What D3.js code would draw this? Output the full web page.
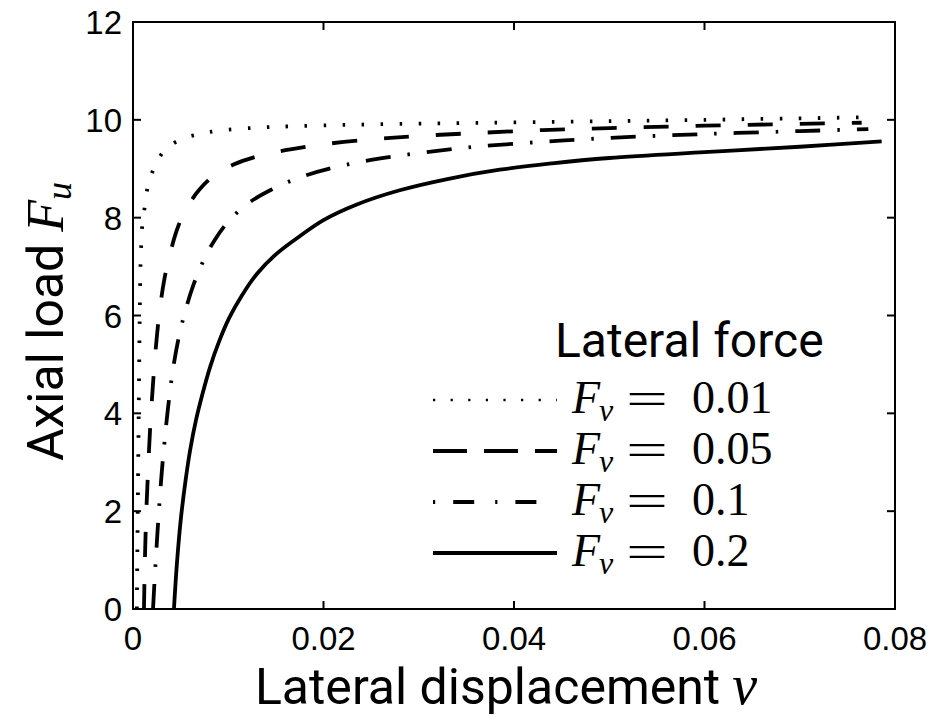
<!DOCTYPE html>
<html>
<head>
<meta charset="utf-8">
<script src="https://cdn.jsdelivr.net/npm/d3@7"></script>
<style>
  body { margin: 0; background: #fff; }
  .tick-label { font-family: "Liberation Sans", Arial, sans-serif; font-size: 33px; fill: #000; }
  .axis-title { font-family: Roboto, sans-serif; font-size: 50px; fill: #000; }
  .math { font-family: "Liberation Serif", serif; }
</style>
</head>
<body>
<div id="chart"></div>
<script>
// axis ticks
var xTicks = [0, 0.02, 0.04, 0.06, 0.08];
var yTicks = [0, 2, 4, 6, 8, 10, 12];
var xTickLabels = ["0", "0.02", "0.04", "0.06", "0.08"];

// lateral force values (legend)
var fvValues = ["0.01", "0.05", "0.1", "0.2"];

// curves: [lateral displacement v, axial load Fu]
var curveFv001 = [
  [0.0004, 0], [0.0005, 2], [0.0006, 4], [0.0007, 5.9], [0.0008, 7.1],
  [0.001, 7.9], [0.0013, 8.3], [0.0016, 8.68], [0.0023, 9.05], [0.0033, 9.37],
  [0.005, 9.6], [0.007, 9.71], [0.009, 9.78], [0.013, 9.84], [0.017, 9.87],
  [0.023, 9.9], [0.033, 9.93], [0.049, 9.97], [0.06, 10.0], [0.0762, 10.05]
];
var curveFv005 = [
  [0.00115, 0], [0.00125, 1.0], [0.0014, 2.0], [0.0016, 2.9], [0.0018, 3.7],
  [0.0021, 4.6], [0.0024, 5.35], [0.0028, 6.1], [0.0033, 6.75], [0.004, 7.35],
  [0.0048, 7.85], [0.0058, 8.25], [0.007, 8.58], [0.0085, 8.86], [0.0105, 9.08],
  [0.013, 9.25], [0.016, 9.38], [0.02, 9.5], [0.025, 9.6], [0.03, 9.67],
  [0.036, 9.73], [0.043, 9.79], [0.05, 9.83], [0.06, 9.88], [0.0765, 9.94]
];
var curveFv01 = [
  [0.0021, 0], [0.0023, 0.7], [0.0025, 1.35], [0.0027, 1.95], [0.003, 2.75],
  [0.0033, 3.4], [0.0037, 4.15], [0.0042, 4.9], [0.0048, 5.55], [0.0055, 6.1],
  [0.0063, 6.6], [0.0073, 7.08], [0.0085, 7.52], [0.01, 7.92], [0.012, 8.28],
  [0.0145, 8.57], [0.0175, 8.82], [0.021, 9.02], [0.025, 9.18], [0.03, 9.32],
  [0.036, 9.45], [0.043, 9.55], [0.05, 9.63], [0.06, 9.71], [0.07, 9.77],
  [0.0772, 9.81]
];
var curveFv02 = [
  [0.0043, 0], [0.0046, 0.9], [0.005, 1.8], [0.0055, 2.6], [0.006, 3.25],
  [0.0066, 3.85], [0.0073, 4.4], [0.0081, 4.95], [0.009, 5.45], [0.0101, 5.95],
  [0.0114, 6.4], [0.013, 6.85], [0.015, 7.25], [0.0175, 7.62], [0.02, 7.95],
  [0.0235, 8.27], [0.028, 8.56], [0.033, 8.79], [0.0385, 8.98], [0.044, 9.11],
  [0.05, 9.22], [0.06, 9.34], [0.07, 9.45], [0.0786, 9.56]
];

var svgWidth = 936;
var svgHeight = 721;
var margin = { top: 22, right: 41, bottom: 112, left: 133 };
var width = svgWidth - margin.left - margin.right;
var height = svgHeight - margin.top - margin.bottom;

var svg = d3.select("#chart")
  .append("svg")
  .attr("width", svgWidth)
  .attr("height", svgHeight);

var chartGroup = svg.append("g")
  .attr("transform", `translate(${margin.left}, ${margin.top})`);

var xScale = d3.scaleLinear().domain([0, 0.08]).range([0, width]);
var yScale = d3.scaleLinear().domain([0, 12]).range([height, 0]);

// line styles (matlab-like)
var styles = [
  { data: curveFv001, dash: "2.5,16.5", legendDash: "2.2,15.4", legendWidth: 2.5 },
  { data: curveFv005, dash: "25,27", legendDash: "34,17", legendWidth: 4 },
  { data: curveFv01, dash: "25,17,2.5,17", legendDash: "2.2,18,21,21", legendWidth: 4 },
  { data: curveFv02, dash: null, legendDash: null, legendWidth: 4 }
];

var line = d3.line()
  .x(d => xScale(d[0]))
  .y(d => yScale(d[1]))
  .curve(d3.curveCatmullRom.alpha(0.5));

styles.forEach(function(s) {
  chartGroup.append("path")
    .datum(s.data)
    .attr("d", line)
    .attr("fill", "none")
    .attr("stroke", "#000")
    .attr("stroke-width", 3.8)
    .attr("stroke-dasharray", s.dash);
});

// box with inward ticks on all sides
chartGroup.append("rect")
  .attr("x", 0).attr("y", 0)
  .attr("width", width).attr("height", height)
  .attr("fill", "none")
  .attr("stroke", "#000")
  .attr("stroke-width", 2);

var tickLen = 8;
xTicks.forEach(function(t, i) {
  var x = xScale(t);
  chartGroup.append("line").attr("x1", x).attr("x2", x)
    .attr("y1", height).attr("y2", height - tickLen)
    .attr("stroke", "#000").attr("stroke-width", 2);
  chartGroup.append("line").attr("x1", x).attr("x2", x)
    .attr("y1", 0).attr("y2", tickLen)
    .attr("stroke", "#000").attr("stroke-width", 2);
  chartGroup.append("text")
    .attr("class", "tick-label")
    .attr("x", x)
    .attr("y", height + 41)
    .attr("text-anchor", "middle")
    .text(xTickLabels[i]);
});

yTicks.forEach(function(t) {
  var y = yScale(t);
  chartGroup.append("line").attr("x1", 0).attr("x2", tickLen)
    .attr("y1", y).attr("y2", y)
    .attr("stroke", "#000").attr("stroke-width", 2);
  chartGroup.append("line").attr("x1", width).attr("x2", width - tickLen)
    .attr("y1", y).attr("y2", y)
    .attr("stroke", "#000").attr("stroke-width", 2);
  chartGroup.append("text")
    .attr("class", "tick-label")
    .attr("x", -11)
    .attr("y", y + 12)
    .attr("text-anchor", "end")
    .text(t);
});

// x axis title
var xTitle = chartGroup.append("text")
  .attr("class", "axis-title")
  .attr("x", width / 2 - 8)
  .attr("y", height + 95)
  .attr("text-anchor", "middle")
  .attr("font-size", "51px");
xTitle.append("tspan").text("Lateral displacement");
xTitle.append("tspan").attr("class", "math").attr("font-style", "italic")
  .attr("dx", 12).attr("font-size", "56px").text("v");

// y axis title
var yTitle = chartGroup.append("text")
  .attr("class", "axis-title")
  .attr("transform", "rotate(-90)")
  .attr("x", -height / 2 - 6)
  .attr("y", -70)
  .attr("text-anchor", "middle")
  .attr("font-size", "49px");
yTitle.append("tspan").text("Axial load");
yTitle.append("tspan").attr("class", "math").attr("font-style", "italic")
  .attr("dx", 12).attr("font-size", "52px").text("F");
yTitle.append("tspan").attr("class", "math").attr("font-style", "italic")
  .attr("font-size", "36px").attr("dy", 8).text("u");

// legend
var legendX = 433 - margin.left;
var legend = chartGroup.append("g")
  .attr("transform", `translate(${legendX}, ${400 - margin.top})`);

legend.append("text")
  .attr("x", 122)
  .attr("y", -43)
  .attr("font-family", "Roboto, sans-serif")
  .attr("font-size", "48px")
  .text("Lateral force");

styles.forEach(function(s, i) {
  var y = i * 51;
  legend.append("line")
    .attr("x1", 0).attr("x2", 124)
    .attr("y1", y).attr("y2", y)
    .attr("stroke", "#000")
    .attr("stroke-width", s.legendWidth)
    .attr("stroke-dasharray", s.legendDash);
  var g = legend.append("g").attr("class", "math").attr("font-size", "46px");
  g.append("text").attr("x", 139).attr("y", y + 13)
    .attr("font-style", "italic").text("F");
  g.append("text").attr("x", 166).attr("y", y + 21)
    .attr("font-style", "italic").attr("font-size", "32px").text("v");
  g.append("text").attr("x", 193).attr("y", y + 14)
    .attr("textLength", 42).attr("lengthAdjust", "spacingAndGlyphs").text("=");
  g.append("text").attr("x", 259).attr("y", y + 13).text(fvValues[i]);
});
</script>
</body>
</html>
